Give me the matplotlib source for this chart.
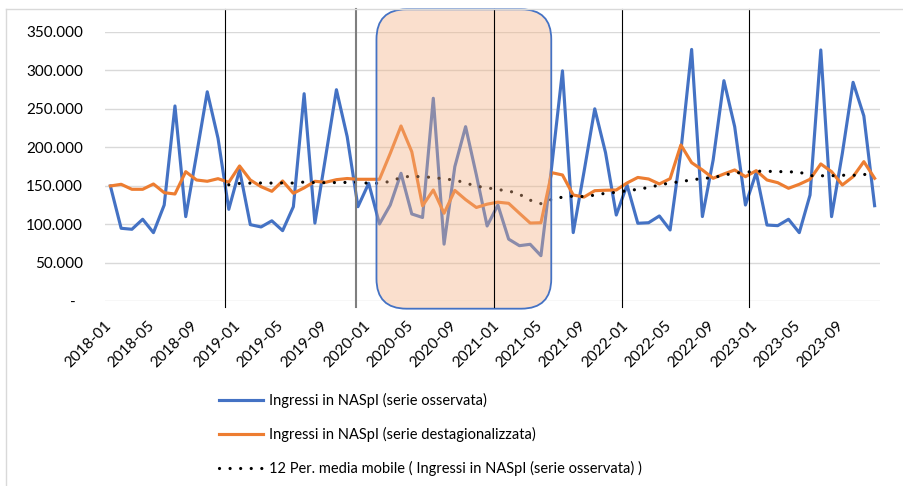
import numpy as np
import pandas as pd
import matplotlib
matplotlib.use("Agg")
import matplotlib.pyplot as plt
from matplotlib.patches import FancyBboxPatch
from matplotlib.transforms import blended_transform_factory, IdentityTransform, ScaledTranslation
from matplotlib.lines import Line2D
from matplotlib.ticker import FuncFormatter, FixedLocator

plt.rcParams['font.family'] = ['Lato', 'DejaVu Sans']

# Monthly periods 2018-01 .. 2023-12
months = pd.period_range("2018-01", "2023-12", freq="M").strftime("%Y-%m").tolist()

# Ingressi in NASpI, serie osservata (migliaia)
observed_k = [149.7, 94.8, 93.5, 106.5, 89.1, 125.0, 253.6, 109.9, 190.0, 272.0, 211.6, 119.4,
              170.5, 99.5, 96.5, 104.5, 91.7, 122.8, 269.5, 101.5, 187.8, 274.7, 213.7, 122.8,
              153.2, 100.4, 125.0, 166.2, 113.4, 108.8, 263.6, 74.2, 174.8, 226.7, 164.0, 97.8,
              125.0, 80.7, 72.2, 74.0, 59.2, 175.0, 299.2, 89.2, 168.0, 249.9, 193.0, 112.0,
              151.0, 101.3, 102.0, 110.8, 92.6, 195.0, 327.0, 110.0, 183.5, 286.4, 226.7, 125.0,
              167.0, 99.0, 98.2, 106.5, 89.1, 138.0, 326.3, 109.9, 192.0, 284.3, 240.6, 124.1]

# Ingressi in NASpI, serie destagionalizzata (migliaia)
adjusted_k = [149.7, 151.9, 145.4, 145.4, 152.3, 141.0, 139.3, 168.3, 157.5, 155.8, 159.2, 154.5,
              175.7, 157.5, 148.8, 142.8, 156.2, 140.2, 147.3, 155.8, 154.5, 157.9, 159.4, 158.4,
              158.4, 158.4, 192.0, 227.6, 194.2, 124.0, 144.5, 114.3, 144.0, 132.0, 121.8, 126.1,
              128.7, 127.2, 114.3, 101.6, 102.0, 167.0, 164.0, 138.0, 135.3, 143.6, 144.2, 144.5,
              153.6, 160.8, 158.8, 152.3, 159.2, 203.0, 180.0, 170.5, 159.7, 165.3, 170.5, 161.8,
              169.6, 157.5, 154.0, 146.7, 151.9, 158.4, 178.3, 168.3, 151.0, 161.8, 181.3, 159.7]

observed = pd.Series(observed_k, index=months) * 1000
adjusted = pd.Series(adjusted_k, index=months) * 1000
moving_avg = observed.rolling(12).mean()

y_ticks = [0, 50000, 100000, 150000, 200000, 250000, 300000, 350000]
x_label_step = 4

# Hand-drawn year separators (month positions) and highlighted span
separators = [10.62, 22.83, 35.62, 47.51, 59.32]
separator_colors = ["black", "#7f7f7f", "black", "black", "black"]
separator_widths = [0.8, 1.5, 0.8, 0.8, 0.8]
highlight_span = (24.72, 40.96)

BLUE = "#4472C4"
ORANGE = "#ED7D31"
GRID = "#d9d9d9"

W, H = 904, 486
fig = plt.figure(figsize=(W / 100, H / 100), dpi=100)
ax = fig.add_axes([105 / W, 1 - 301.3 / H, 775 / W, 269.6 / H])

x = np.arange(len(months))
ax.plot(x, observed.values, color=BLUE, lw=2.25, solid_joinstyle="round", zorder=3,
        label="Ingressi in NASpI (serie osservata)")
ax.plot(x, adjusted.values, color=ORANGE, lw=2.25, solid_joinstyle="round", zorder=4,
        label="Ingressi in NASpI (serie destagionalizzata)")
ax.plot(x, moving_avg.values, color="black", lw=2.3, linestyle=(0, (0.01, 3.3)),
        dash_capstyle="round", zorder=5,
        label="12 Per. media mobile ( Ingressi in NASpI (serie osservata) )")

ax.set_xlim(-0.5, len(months) - 0.5)
ax.set_ylim(0, 350000)

ax.yaxis.set_major_locator(FixedLocator(y_ticks))
ax.yaxis.set_major_formatter(FuncFormatter(
    lambda v, p: "-" if v == 0 else f"{int(v):,}".replace(",", ".")))
ax.set_xticks(x[::x_label_step])
ax.set_xticklabels(months[::x_label_step], rotation=45, ha="right", va="top",
                   rotation_mode="default")
ax.tick_params(axis="x", length=0, pad=12, labelsize=11, colors="black")
ax.tick_params(axis="y", length=0, pad=16, labelsize=11, colors="black")

ax.grid(axis="y", color=GRID, lw=1.0, zorder=0)
ax.set_axisbelow(True)
for s in ax.spines.values():
    s.set_visible(False)

fig.canvas.draw()
# zero label sits a little left of the other labels
for lbl in ax.get_yticklabels():
    if lbl.get_text() == "-":
        lbl.set_transform(lbl.get_transform() + ScaledTranslation(-7 / 100, 0, fig.dpi_scale_trans))
# nudge the rotated month labels so their ends meet the category positions
for lbl in ax.get_xticklabels():
    lbl.set_transform(lbl.get_transform() + ScaledTranslation(4 / 100, -1 / 100, fig.dpi_scale_trans))

blend = blended_transform_factory(ax.transData, ax.transAxes)

# highlighted period (rounded box)
(x0, y0) = blend.transform((highlight_span[0], -0.0274))
(x1, y1) = blend.transform((highlight_span[1], 1.083))
box = FancyBboxPatch((x0, y0), x1 - x0, y1 - y0,
                     boxstyle="round,pad=0,rounding_size=30",
                     transform=IdentityTransform(),
                     facecolor=(244 / 255, 177 / 255, 131 / 255, 0.4),
                     edgecolor=BLUE, lw=1.3, zorder=6, clip_on=False)
ax.add_patch(box)

# year separators
for pos, col, lw in zip(separators, separator_colors, separator_widths):
    ax.plot([pos, pos], [-0.021, 1.084], transform=blend, color=col, lw=lw,
            zorder=7, clip_on=False)

# chart frame
fig.add_artist(Line2D([6 / W, 6 / W], [0, 1 - 9 / H], transform=fig.transFigure,
                      color=GRID, lw=1.0))
fig.add_artist(Line2D([6 / W, 1], [1 - 9 / H, 1 - 9 / H], transform=fig.transFigure,
                      color=GRID, lw=1.0))

leg = fig.legend(loc="upper left", bbox_to_anchor=(206 / W, 1 - 380 / H),
                 frameon=False, fontsize=10.5, handlelength=3.0, handletextpad=0.45,
                 labelspacing=1.3)

fig.savefig("out.png", dpi=100)
